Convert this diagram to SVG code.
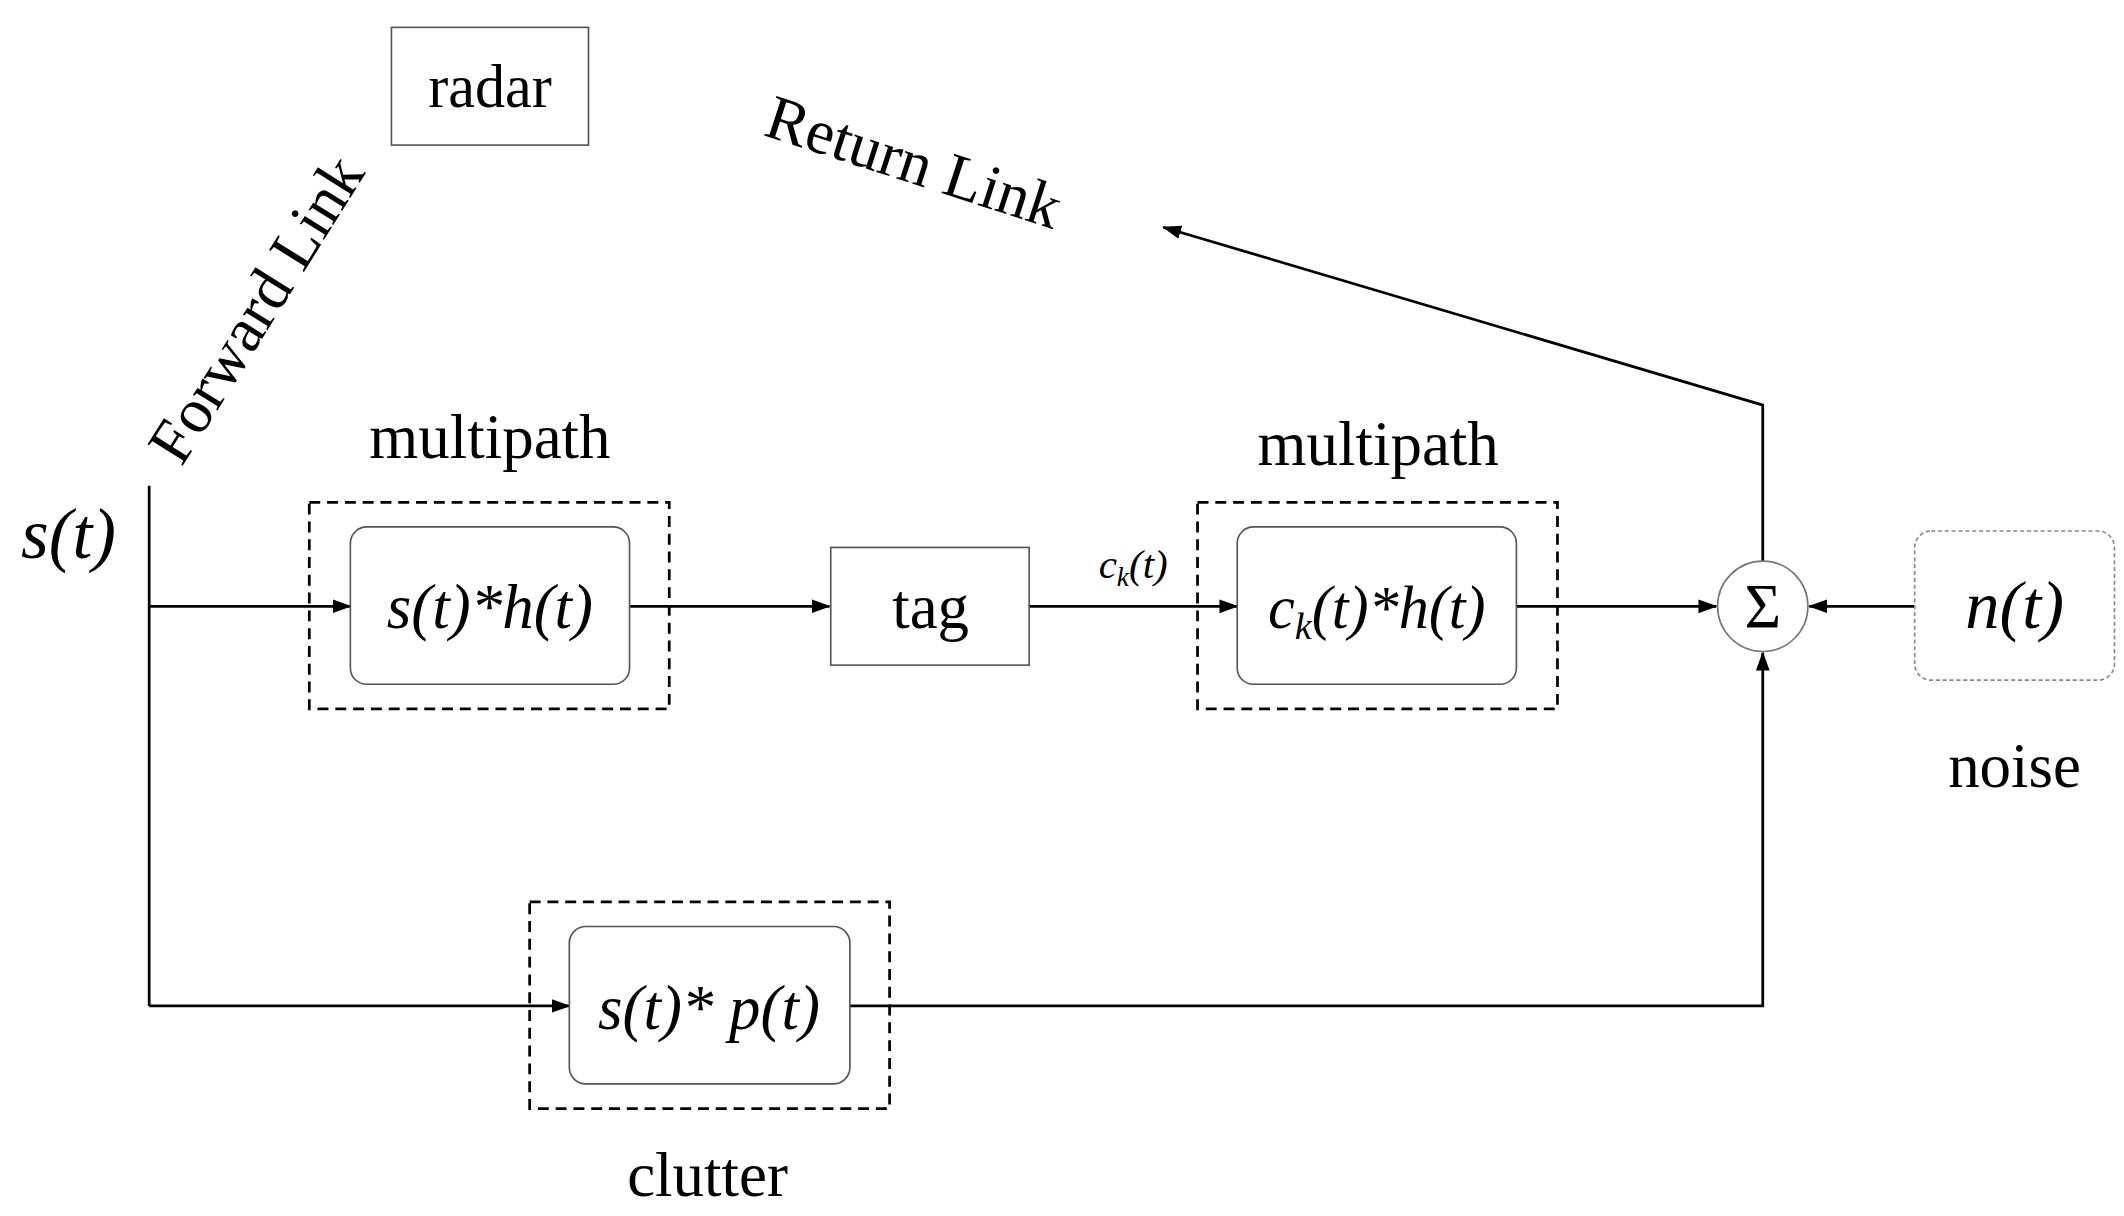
<svg xmlns="http://www.w3.org/2000/svg" width="2124" height="1216" viewBox="0 0 2124 1216">
<style>
text{font-family:"Liberation Serif","Times New Roman",serif;fill:#000;text-anchor:middle}
.i{font-style:italic}
.ln{fill:none;stroke:#000;stroke-width:2}
.dash{fill:none;stroke:#000;stroke-width:2;stroke-dasharray:8,5}
.in{fill:#fff;stroke:#555;stroke-width:1.2}
</style>
<defs><marker id="a" markerWidth="14" markerHeight="14" refX="13" refY="7" orient="auto" markerUnits="userSpaceOnUse" viewBox="0 0 14 14"><path d="M0,2 L14,7 L0,12 z" fill="#000"/></marker></defs>
<rect width="2124" height="1216" fill="#fff"/>
<g transform="scale(1.3686)">
<g id="connectors">
<path class="ln" d="M109,355 V735"/>
<path class="ln" d="M109,443 H256" marker-end="url(#a)"/>
<path class="ln" d="M109,735 H416" marker-end="url(#a)"/>
<path class="ln" d="M460,443 H606" marker-end="url(#a)"/>
<path class="ln" d="M752,443 H904" marker-end="url(#a)"/>
<path class="ln" d="M1108,443 H1254" marker-end="url(#a)"/>
<path class="ln" d="M1399,443 H1322" marker-end="url(#a)"/>
<path class="ln" d="M621,735 H1288 V477" marker-end="url(#a)"/>
<path class="ln" d="M1288,410 V296 L850,166" marker-end="url(#a)"/>
</g>
<g id="radar"><rect x="286" y="20" width="144" height="86" fill="#fff" stroke="#555" stroke-width="1.2"/><text x="358" y="78" font-size="44">radar</text></g>
<g id="forward"><text transform="translate(200,234) rotate(-58)" font-size="46">Forward Link</text></g>
<g id="return"><text transform="translate(663,133) rotate(18)" font-size="46">Return Link</text></g>
<g id="s"><text x="50" y="408" font-size="52" class="i">s(t)</text></g>
<g id="mp1"><rect class="dash" x="226" y="367" width="263" height="151"/><rect class="in" x="256" y="385" width="204" height="115" rx="12"/><text x="358" y="459" font-size="46" class="i">s(t)*h(t)</text><text x="358" y="335" font-size="46">multipath</text></g>
<g id="tag"><rect x="607" y="400" width="145" height="86" fill="#fff" stroke="#555" stroke-width="1.2"/><text x="680" y="459" font-size="46">tag</text></g>
<g id="ck"><text x="828" y="422" font-size="30" class="i">c<tspan font-size="20" dy="6">k</tspan><tspan dy="-6">(t)</tspan></text></g>
<g id="mp2"><rect class="dash" x="875" y="367" width="263" height="151"/><rect class="in" x="904" y="385" width="204" height="115" rx="12"/><text x="1006" y="459" font-size="44" class="i">c<tspan font-size="28" dy="8">k</tspan><tspan dy="-8">(t)*h(t)</tspan></text><text x="1007" y="340" font-size="46">multipath</text></g>
<g id="sum"><circle cx="1288" cy="443" r="33" fill="#fff" stroke="#777" stroke-width="1.2"/><text x="1288" y="459" font-size="46">Σ</text></g>
<g id="noise"><rect x="1399" y="388" width="146" height="109" rx="12" fill="#fff" stroke="#888" stroke-width="1.2" stroke-dasharray="3,2"/><text x="1472" y="459" font-size="50" class="i">n(t)</text><text x="1472" y="575" font-size="46">noise</text></g>
<g id="clutter"><rect class="dash" x="387" y="659" width="263" height="151"/><rect class="in" x="416" y="677" width="205" height="115" rx="12"/><text x="518" y="752" font-size="46" class="i">s(t)* p(t)</text><text x="517" y="874" font-size="46">clutter</text></g>
</g>
</svg>
